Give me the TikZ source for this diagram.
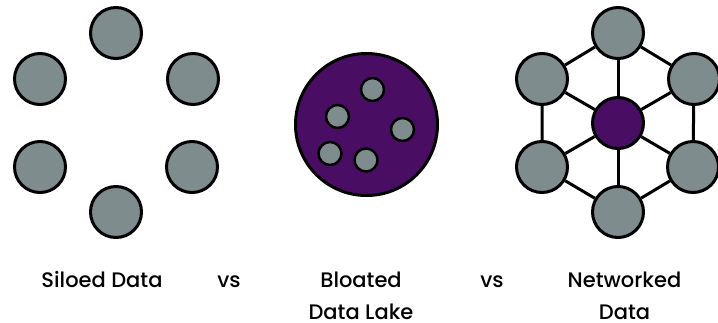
\documentclass[tikz,border=0pt]{standalone}
\usepackage{fontspec}
\setmainfont{Poppins}[UprightFont={* Medium}]
\usepackage{tikz}
\usetikzlibrary{shapes,arrows,calc}
\definecolor{slate}{RGB}{127,140,141}
\definecolor{plum}{RGB}{74,13,100}
\tikzstyle{line} = [draw, line width=3pt]
\tikzstyle{store} = [draw, circle, fill=slate, line width=3pt, minimum size=51pt, inner sep=0pt]
\tikzstyle{hub} = [store, fill=plum]
\tikzstyle{lake} = [draw, circle, fill=plum, line width=3pt, minimum size=142pt, inner sep=0pt]
\tikzstyle{drop} = [draw, circle, fill=slate, line width=2.5pt, minimum size=23pt, inner sep=0pt]
\tikzstyle{label} = [text centered, font=\fontsize{21pt}{31.3pt}\selectfont, align=center, anchor=base, inner sep=0pt]

\begin{document}
\begin{tikzpicture}[x=1pt, y=-1pt]
        \useasboundingbox (0,0) rectangle (718,322);
        % siloed
        \node[store] (s1) at (116,33) {};
        \node[store] (s2) at (193,79) {};
        \node[store] (s3) at (192,167) {};
        \node[store] (s4) at (116,212) {};
        \node[store] (s5) at (40,167) {};
        \node[store] (s6) at (40,79) {};
        % bloated lake
        \node[lake] (lake) at (366.5,124.5) {};
        \node[drop] (d1) at (372.5,89.5) {};
        \node[drop] (d2) at (337.5,116.5) {};
        \node[drop] (d3) at (402.5,129.5) {};
        \node[drop] (d4) at (330,153.5) {};
        \node[drop] (d5) at (366,160) {};
        % networked
        \node[store] (n1) at (618,33) {};
        \node[store] (n2) at (694,79) {};
        \node[store] (n3) at (693,167) {};
        \node[store] (n4) at (618,212) {};
        \node[store] (n5) at (542,167) {};
        \node[store] (n6) at (542,79) {};
        \node[hub] (center) at (618,123) {};
        \path[line] (n1) -- (n2) -- (n3) -- (n4) -- (n5) -- (n6) -- (n1);
        \path[line] (center) -- (n1);
        \path[line] (center) -- (n2);
        \path[line] (center) -- (n3);
        \path[line] (center) -- (n4);
        \path[line] (center) -- (n5);
        \path[line] (center) -- (n6);
        % labels (base = last line)
        \node[label] (siloed) at (102,287.7) {Siloed Data};
        \node[label] (vs1) at (229,287.7) {vs};
        \node[label] (bloated) at (361,319) {Bloated\\Data Lake};
        \node[label] (vs2) at (492,287.7) {vs};
        \node[label] (networked) at (624.5,319) {Networked\\Data};
    \end{tikzpicture}
\end{document}
